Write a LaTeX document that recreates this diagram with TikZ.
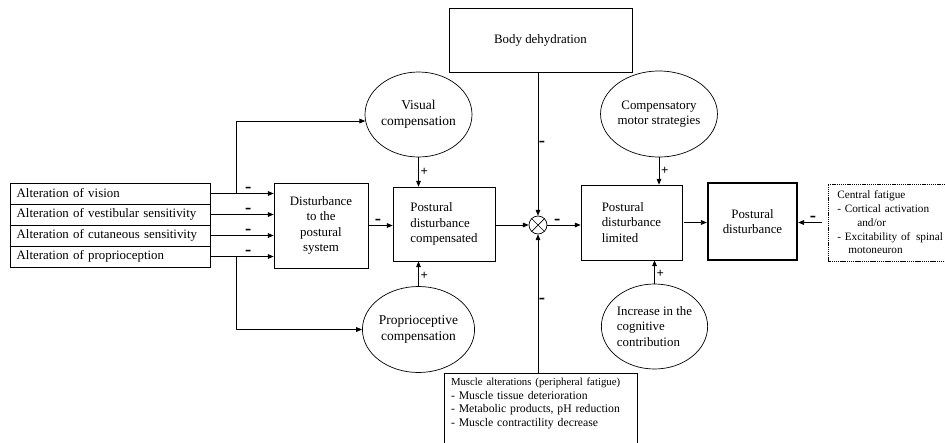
\documentclass[tikz,border=0pt]{standalone}
\usepackage{fontspec}
\setmainfont{Liberation Serif}
\usetikzlibrary{arrows.meta,positioning,shapes.geometric}
\begin{document}
\begin{tikzpicture}[x=0.03cm,y=-0.03cm,line width=0.6pt,
		font=\fontsize{11}{13}\selectfont,
		arr/.style={-{Triangle[length=5pt,width=4pt]}},
		box/.style={draw,align=center},
		altbox/.style={draw,outer sep=0pt,text width=5.6cm,inner xsep=0.2cm,inner ysep=0pt,minimum height=0.63cm,align=left},
		oval/.style={draw,ellipse,inner sep=0pt,align=center,minimum width=3.21cm,minimum height=2.55cm,font=\fontsize{11.5}{13.5}\selectfont},
		sign/.style={font=\bfseries\fontsize{16}{16}\selectfont,inner sep=0.5pt},
		plus/.style={font=\bfseries\fontsize{11}{11}\selectfont,inner sep=1.5pt}]
	\useasboundingbox (0,0) rectangle (945,442);
	\fill[white] (0,0) rectangle (945,442);
	% inputs
	\node[altbox,anchor=north west] (alt1) at (10,183) {Alteration of vision};
	\node[altbox,below=0pt of alt1] (alt2) {Alteration of vestibular sensitivity};
	\node[altbox,below=0pt of alt2] (alt3) {Alteration of cutaneous sensitivity};
	\node[altbox,below=0pt of alt3] (alt4) {Alteration of proprioception};
	\node[box,minimum width=2.82cm,minimum height=2.55cm] (dist) at (321,225.5) {Disturbance\\to the\\postural\\system};
	\node[box,align=left,minimum width=3.06cm,minimum height=2.22cm] (pdc) at (444,224) {Postural\\disturbance\\compensated};
	\node[draw,circle,minimum size=0.54cm,inner sep=0pt] (mix) at (538,225) {};
	\draw (mix.north west) -- (mix.south east) (mix.north east) -- (mix.south west);
	\node[box,align=left,minimum width=3.03cm,minimum height=2.25cm] (pdl) at (631.5,222.5) {Postural\\disturbance\\limited};
	\node[box,line width=2pt,minimum width=2.67cm,minimum height=2.31cm] (pd) at (752.5,221.5) {Postural\\disturbance};
	\node[draw,dash pattern=on 1pt off 0.6pt,anchor=west,minimum height=2.31cm,text width=3.6cm,inner xsep=0.27cm,align=left,font=\fontsize{9.6}{11.7}\selectfont] (cent) at (828,222.5) {Central fatigue\\- Cortical activation\\\hspace*{0.6cm}and/or\\- Excitability of\, spinal\\\hspace*{0.33cm}motoneuron};
	\node[box,minimum width=5.49cm,minimum height=1.92cm] (dehyd) at (540.5,40) {Body dehydration};
	\node[draw,anchor=north west,text width=5.4cm,inner xsep=0.2cm,inner ysep=0.15cm,align=left,text depth=2cm,font=\fontsize{10}{11.5}\selectfont] (musc) at (444,373) {{\fontsize{9.2}{11.5}\selectfont Muscle alterations (peripheral fatigue)}\\- Muscle tissue deterioration\\- Metabolic products, pH reduction\\- Muscle contractility decrease};
	% compensations
	\node[oval] (vis) at (418.5,114.5) {Visual\\compensation};
	\node[oval,minimum height=2.58cm] (prop) at (418.5,329.5) {Proprioceptive\\compensation};
	\node[oval,minimum width=3.24cm,minimum height=2.58cm,font=\fontsize{11}{13}\selectfont] (comp) at (659,114) {Compensatory\\motor strategies};
	\node[oval,align=left,minimum width=3.03cm,font=\fontsize{11}{13}\selectfont] (incr) at (654.5,326.5) {Increase in the\\cognitive\\contribution};
	% connectors
	\foreach \i in {1,...,4}
		\draw[arr] (alt\i.east) -- (alt\i.east -| dist.west) node[sign,above,pos=0.6] {-};
	\coordinate (vtap) at ([xshift=0.78cm]alt1.east);
	\coordinate (ptap) at ([xshift=0.78cm]alt4.east);
	\draw[arr] (vtap) |- (vis.187);
	\draw[arr] (ptap) |- (prop.west);
	\draw[arr] (dist.east) -- (dist.east -| pdc.west) node[sign,above,pos=0.4] {-};
	\draw[arr] (vis.south) -- (vis.south |- pdc.north) node[plus,right,midway] {+};
	\draw[arr] (prop.north) -- (prop.north |- pdc.south) node[plus,right,pos=0.4] {+};
	\draw[arr] (mix.west -| pdc.east) -- (mix.west);
	\draw[arr] (dehyd.south -| mix.north) -- (mix.north) node[sign,right,midway] {-};
	\draw[arr] (musc.north -| mix.south) -- (mix.south) node[sign,right,pos=0.52] {-};
	\draw[arr] (mix.east) -- (mix.east -| pdl.west) node[sign,above,pos=0.3] {-};
	\draw[arr] (comp.south) -- (comp.south |- pdl.north) node[plus,right,midway] {+};
	\draw[arr] (incr.north) -- (incr.north |- pdl.south) node[plus,right,pos=0.4] {+};
	\draw[arr,shorten <=0.06cm] (pdl.east) -- (pdl.east -| pd.west);
	\draw[arr,shorten <=0.18cm] (cent.west) -- (cent.west -| pd.east) node[sign,above,midway] {-};
\end{tikzpicture}
\end{document}
